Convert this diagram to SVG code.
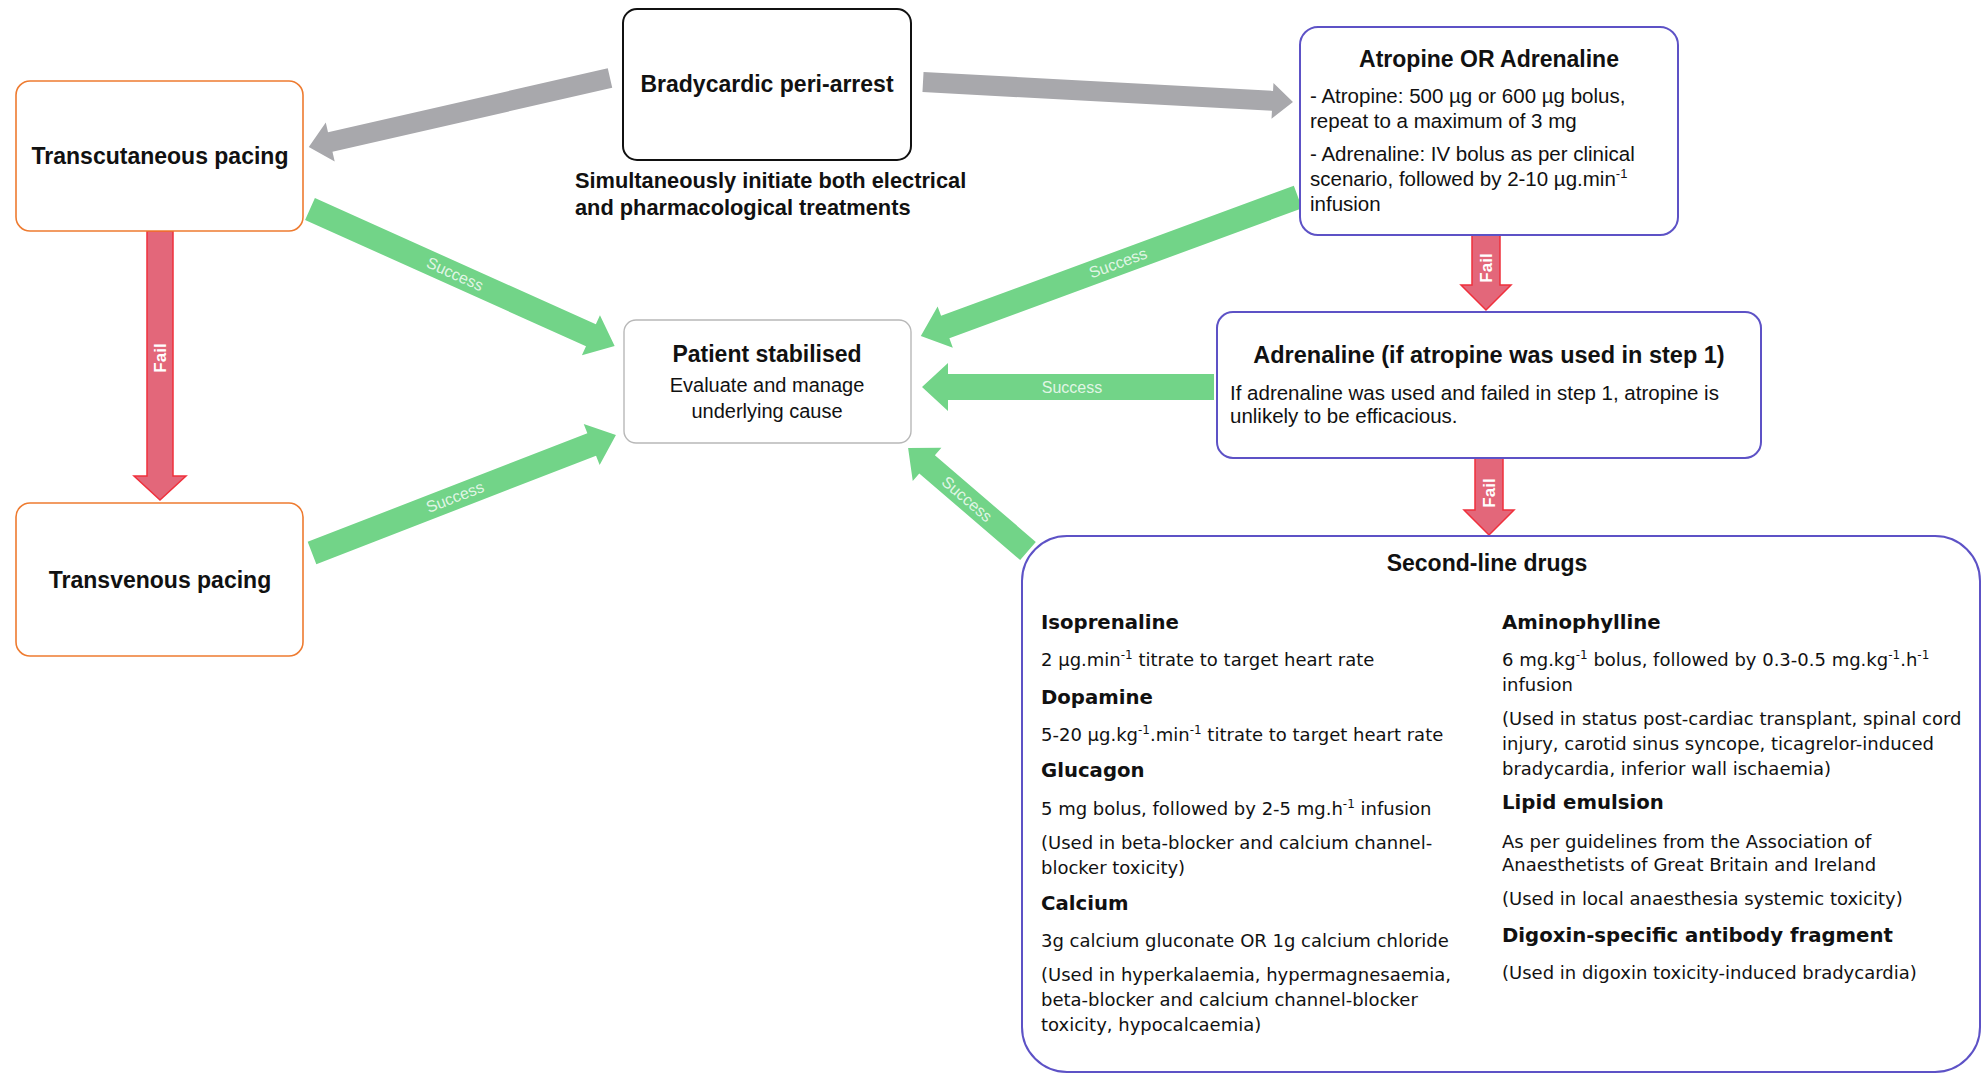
<svg xmlns="http://www.w3.org/2000/svg" width="1983" height="1075" viewBox="0 0 1983 1075">
<style>
.t{font-family:"Liberation Sans",Arial,sans-serif;fill:#111}
.d{font-family:"DejaVu Sans",Verdana,sans-serif;fill:#111}
.b{font-weight:bold}
.tt{font-size:23px;font-weight:bold}
.bd{font-size:20.5px}
.dh{font-size:19.7px;font-weight:bold}
.db{font-size:18px}
.c{text-anchor:middle}
.org{fill:#fff;stroke:#ee7b30;stroke-width:1.6}
.blk{fill:#fff;stroke:#111;stroke-width:2}
.gry{fill:#fff;stroke:#b8b8b8;stroke-width:1.4}
.pur{fill:#fff;stroke:#5d52c6;stroke-width:2}
.ga{fill:#a8a8ac}
.gr{fill:#72d488}
.rd{fill:#e3677a;stroke:#f0303c;stroke-width:1.5}
.lab{font-family:"Liberation Sans",Arial,sans-serif;font-size:16px;fill:#fff;fill-opacity:0.8;text-anchor:middle;dominant-baseline:central}
.fl{font-family:"Liberation Sans",Arial,sans-serif;font-size:17px;font-weight:bold;fill:#fff;text-anchor:middle;dominant-baseline:central}
</style>
<rect width="1983" height="1075" fill="#fff"/>

<g id="connectors">
  <path class="ga" transform="translate(610,78) rotate(167.1)" d="M0,-10 H287 V-20 L309,0 L287,20 V10 H0 Z"/>
  <path class="ga" transform="translate(923,82) rotate(3.09)" d="M0,-10 H350 V-18 L370.5,0 L350,18 V10 H0 Z"/>
  <path class="gr" transform="translate(310,209) rotate(24.2)" d="M0,-12 H308 V-22 L334,0 L308,22 V12 H0 Z"/>
  <path class="gr" transform="translate(312,553) rotate(-21.2)" d="M0,-12 H300 V-22 L326,0 L300,22 V12 H0 Z"/>
  <path class="gr" transform="translate(1298,197) rotate(159.76)" d="M0,-12 H376 V-22 L402,0 L376,22 V12 H0 Z"/>
  <path class="gr" transform="translate(1214,387) rotate(180)" d="M0,-13 H266 V-24 L292,0 L266,24 V13 H0 Z"/>
  <path class="gr" transform="translate(1028,551) rotate(-139.36)" d="M0,-12 H133 V-22 L158,0 L133,22 V12 H0 Z"/>
  <path class="rd" transform="translate(160,231) rotate(90)" d="M0,-13 H245 V-26 L269,0 L245,26 V13 H0 Z"/>
  <path class="rd" transform="translate(1486,235) rotate(90)" d="M0,-14 H50 V-25 L75,0 L50,25 V14 H0 Z"/>
  <path class="rd" transform="translate(1489,458) rotate(90)" d="M0,-14 H52 V-25 L77,0 L52,25 V14 H0 Z"/>
  <text class="lab" transform="translate(455,274) rotate(24.2)">Success</text>
  <text class="lab" transform="translate(455,497) rotate(-21.2)">Success</text>
  <text class="lab" transform="translate(1118,263) rotate(-20.24)">Success</text>
  <text class="lab" transform="translate(1072,387)">Success</text>
  <text class="lab" transform="translate(967,499) rotate(40.64)">Success</text>
  <text class="fl" transform="translate(160,358) rotate(-90)">Fail</text>
  <text class="fl" transform="translate(1486,268) rotate(-90)">Fail</text>
  <text class="fl" transform="translate(1489,493) rotate(-90)">Fail</text>
</g>

<g id="node-transcutaneous">
  <rect class="org" x="16" y="81" width="287" height="150" rx="14"/>
  <text class="t tt c" x="160" y="164">Transcutaneous pacing</text>
</g>

<g id="node-transvenous">
  <rect class="org" x="16" y="503" width="287" height="153" rx="14"/>
  <text class="t tt c" x="160" y="588">Transvenous pacing</text>
</g>

<g id="node-bradycardic">
  <rect class="blk" x="623" y="9" width="288" height="151" rx="14"/>
  <text class="t tt c" x="767" y="92">Bradycardic peri-arrest</text>
  <text class="t b" style="font-size:21.8px" x="575" y="188">Simultaneously initiate both electrical</text>
  <text class="t b" style="font-size:21.8px" x="575" y="215">and pharmacological treatments</text>
</g>

<g id="node-stabilised">
  <rect class="gry" x="624" y="320" width="287" height="123" rx="12"/>
  <text class="t tt c" x="767" y="362">Patient stabilised</text>
  <text class="t c" style="font-size:20px" x="767" y="392">Evaluate and manage</text>
  <text class="t c" style="font-size:20px" x="767" y="418">underlying cause</text>
</g>

<g id="node-atropine">
  <rect class="pur" x="1300" y="27" width="378" height="208" rx="18"/>
  <text class="t tt c" x="1489" y="67">Atropine OR Adrenaline</text>
  <text class="t bd" x="1310" y="103">- Atropine: 500 µg or 600 µg bolus,</text>
  <text class="t bd" x="1310" y="128">repeat to a maximum of 3 mg</text>
  <text class="t bd" x="1310" y="161">- Adrenaline: IV bolus as per clinical</text>
  <text class="t bd" x="1310" y="186">scenario, followed by 2-10 µg.min<tspan dy="-8" style="font-size:13px">-1</tspan></text>
  <text class="t bd" x="1310" y="211">infusion</text>
</g>

<g id="node-adrenaline">
  <rect class="pur" x="1217" y="312" width="544" height="146" rx="16"/>
  <text class="t b c" style="font-size:23.5px" x="1489" y="363">Adrenaline (if atropine was used in step 1)</text>
  <text class="t bd" x="1230" y="400">If adrenaline was used and failed in step 1, atropine is</text>
  <text class="t bd" x="1230" y="423">unlikely to be efficacious.</text>
</g>

<g id="node-second-line">
  <rect class="pur" x="1022" y="536" width="958" height="536" rx="45"/>
  <text class="t tt c" x="1487" y="571">Second-line drugs</text>
  <text class="d dh" x="1041" y="629">Isoprenaline</text>
  <text class="d db" x="1041" y="666">2 µg.min<tspan dy="-7" style="font-size:12px">-1</tspan><tspan dy="7"> titrate to target heart rate</tspan></text>
  <text class="d dh" x="1041" y="704">Dopamine</text>
  <text class="d db" x="1041" y="741">5-20 µg.kg<tspan dy="-7" style="font-size:12px">-1</tspan><tspan dy="7">.min</tspan><tspan dy="-7" style="font-size:12px">-1</tspan><tspan dy="7"> titrate to target heart rate</tspan></text>
  <text class="d dh" x="1041" y="777">Glucagon</text>
  <text class="d db" x="1041" y="815">5 mg bolus, followed by 2-5 mg.h<tspan dy="-7" style="font-size:12px">-1</tspan><tspan dy="7"> infusion</tspan></text>
  <text class="d db" x="1041" y="849">(Used in beta-blocker and calcium channel-</text>
  <text class="d db" x="1041" y="874">blocker toxicity)</text>
  <text class="d dh" x="1041" y="910">Calcium</text>
  <text class="d db" x="1041" y="947">3g calcium gluconate OR 1g calcium chloride</text>
  <text class="d db" x="1041" y="981">(Used in hyperkalaemia, hypermagnesaemia,</text>
  <text class="d db" x="1041" y="1006">beta-blocker and calcium channel-blocker</text>
  <text class="d db" x="1041" y="1031">toxicity, hypocalcaemia)</text>

  <text class="d dh" x="1502" y="629">Aminophylline</text>
  <text class="d db" x="1502" y="666">6 mg.kg<tspan dy="-7" style="font-size:12px">-1</tspan><tspan dy="7"> bolus, followed by 0.3-0.5 mg.kg</tspan><tspan dy="-7" style="font-size:12px">-1</tspan><tspan dy="7">.h</tspan><tspan dy="-7" style="font-size:12px">-1</tspan></text>
  <text class="d db" x="1502" y="691">infusion</text>
  <text class="d db" x="1502" y="725">(Used in status post-cardiac transplant, spinal cord</text>
  <text class="d db" x="1502" y="750">injury, carotid sinus syncope, ticagrelor-induced</text>
  <text class="d db" x="1502" y="775">bradycardia, inferior wall ischaemia)</text>
  <text class="d dh" x="1502" y="809">Lipid emulsion</text>
  <text class="d db" x="1502" y="848">As per guidelines from the Association of</text>
  <text class="d db" x="1502" y="871">Anaesthetists of Great Britain and Ireland</text>
  <text class="d db" x="1502" y="905">(Used in local anaesthesia systemic toxicity)</text>
  <text class="d dh" x="1502" y="942">Digoxin-specific antibody fragment</text>
  <text class="d db" x="1502" y="979">(Used in digoxin toxicity-induced bradycardia)</text>
</g>
</svg>
